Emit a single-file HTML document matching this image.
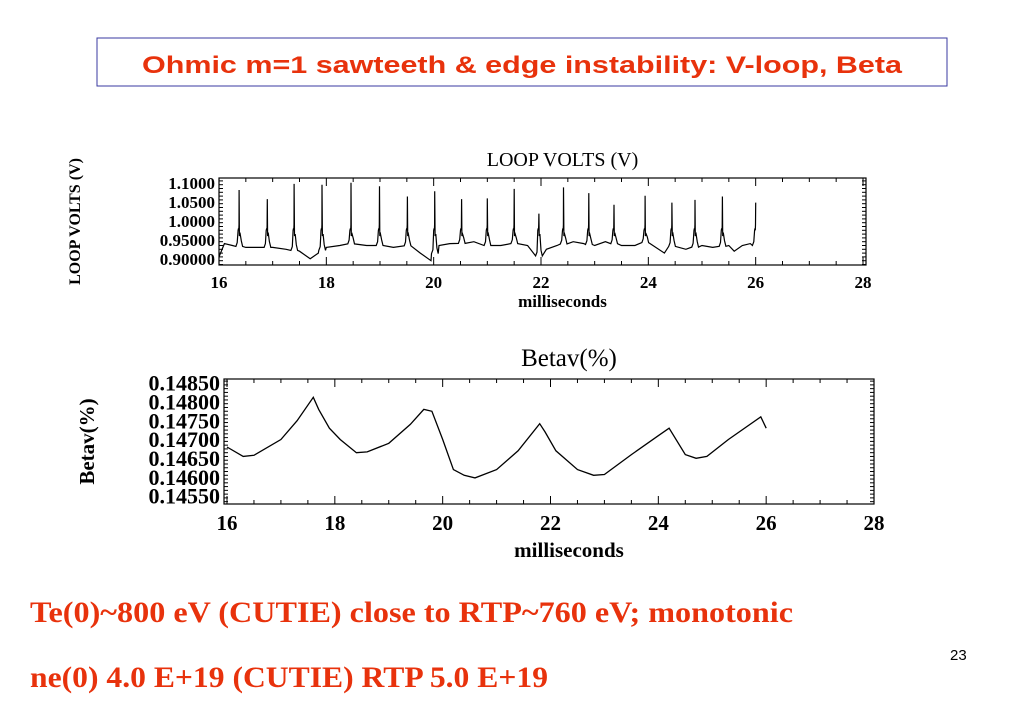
<!DOCTYPE html>
<html><head><meta charset="utf-8"><style>
html,body{margin:0;padding:0;background:#fff;}
svg{display:block;}
</style></head><body>
<svg id="s" width="1023" height="708" viewBox="0 0 1023 708" xmlns="http://www.w3.org/2000/svg">
<rect x="97" y="38" width="850" height="48" fill="#fff" stroke="#3a3aa0" stroke-width="1"/>
<text x="522" y="73" text-anchor="middle" font-family="Liberation Sans, sans-serif" font-weight="bold" font-size="24" fill="#e8320c" textLength="760" lengthAdjust="spacingAndGlyphs">Ohmic m=1 sawteeth &amp; edge instability: V-loop, Beta</text>
<g id="top"></g>
<g id="bot"></g>
<text x="30" y="622" font-family="Liberation Serif, serif" font-weight="bold" font-size="30" fill="#e8320c" textLength="763" lengthAdjust="spacingAndGlyphs">Te(0)~800 eV (CUTIE) close to RTP~760 eV; monotonic</text>
<text x="30" y="687" font-family="Liberation Serif, serif" font-weight="bold" font-size="30" fill="#e8320c" textLength="518" lengthAdjust="spacingAndGlyphs">ne(0) 4.0 E+19 (CUTIE) RTP 5.0 E+19</text>
<text x="950" y="660" font-family="Liberation Sans, sans-serif" font-size="15" fill="#000">23</text>
</svg>
<script>
// Loop volts data
const spikeTimes=[16.375,16.90,17.40,17.92,18.46,18.99,19.51,20.02,20.52,21.00,21.50,21.96,22.42,22.89,23.36,23.94,24.44,24.87,25.38,26.0];
const spikePeaks=[1.081,1.057,1.097,1.095,1.10,1.091,1.064,1.078,1.057,1.059,1.084,1.019,1.088,1.073,1.042,1.066,1.048,1.055,1.064,1.048];
const baseTimes=[16.0,16.1,16.25,16.5,16.75,17.0,17.25,17.5,17.7,17.85,18.0,18.25,18.5,18.75,19.0,19.25,19.5,19.75,19.95,20.1,20.3,20.5,20.75,21.0,21.25,21.5,21.75,21.98,22.1,22.3,22.6,22.8,23.0,23.2,23.5,23.75,24.0,24.3,24.5,24.7,25.0,25.2,25.5,25.6,25.75,25.9,26.0];
const baseVals=[0.905,0.94,0.935,0.93,0.93,0.93,0.925,0.92,0.90,0.915,0.93,0.935,0.94,0.935,0.935,0.93,0.935,0.915,0.895,0.935,0.94,0.94,0.945,0.935,0.935,0.94,0.935,0.905,0.925,0.935,0.945,0.94,0.935,0.945,0.935,0.935,0.945,0.915,0.94,0.925,0.935,0.93,0.935,0.92,0.935,0.94,0.935];
const vTicks=[0.90,0.95,1.00,1.05,1.10];
const vTickLabels=["0.90000","0.95000","1.0000","1.0500","1.1000"];
// Beta data
const betaTimes=[16.0,16.3,16.5,17.0,17.3,17.6,17.7,17.9,18.1,18.4,18.6,19.0,19.4,19.65,19.8,20.0,20.2,20.4,20.6,21.0,21.4,21.8,21.9,22.1,22.5,22.8,23.0,23.5,24.0,24.2,24.5,24.7,24.9,25.3,25.9,26.0];
const betaVals=[0.1468,0.14655,0.14658,0.1470,0.1475,0.14812,0.1478,0.1473,0.1470,0.14665,0.14667,0.1469,0.1474,0.1478,0.14775,0.1470,0.1462,0.14605,0.14598,0.1462,0.1467,0.14742,0.1472,0.1467,0.1462,0.14605,0.14607,0.1466,0.1471,0.1473,0.1466,0.1465,0.14655,0.1470,0.1476,0.1473];
const bTicks=[0.1455,0.1460,0.1465,0.1470,0.1475,0.1480,0.1485];
const bTickLabels=["0.14550","0.14600","0.14650","0.14700","0.14750","0.14800","0.14850"];
const xTicks=[16,18,20,22,24,26,28];

const NS="http://www.w3.org/2000/svg";
function mk(parent,tag,attrs,txt){const e=document.createElementNS(NS,tag);for(const k in attrs)e.setAttribute(k,attrs[k]);if(txt!==undefined)e.textContent=txt;parent.appendChild(e);return e;}

function drawAxes(g,cfg){
  const {L,R,T,B,x,y,yMin,yMax,yTicks,yLabels,title,titleY,titleFs,ytitle,ytitleX,xlabY,xtY,xtFs,ytFs}=cfg;
  const fr=mk(g,'rect',{x:L,y:T,width:R-L,height:B-T,fill:'none',stroke:'#000','stroke-width':1.2});
  
  
  for(let v=16;v<=28.001;v+=0.5){
    const big=Math.abs(v-Math.round(v/2)*2)<1e-6;const len=big?8:4;const px=x(v);
    const t1=mk(g,'line',{x1:px,y1:B,x2:px,y2:B-len,stroke:'#000'});
    
    
    const t2=mk(g,'line',{x1:px,y1:T,x2:px,y2:T+len,stroke:'#000'});
    
    
  }
  xTicks.forEach(v=>{
    const t=mk(g,'text',{x:x(v),y:xtY,'text-anchor':'middle','font-family':'Liberation Serif, serif','font-weight':'bold','font-size':xtFs},String(v));
    
    
  });
  const step=(yTicks[1]-yTicks[0])/5;
  for(let v=yMin;v<=yMax+1e-9;v+=step){
    const major=yTicks.some(t=>Math.abs(t-v)<step/10);const len=major?8:4;const py=y(v);
    if(py<T-0.5||py>B+0.5)continue;
    const a=mk(g,'line',{x1:L,y1:py,x2:L+len,y2:py,stroke:'#000'});
    
    
    const b=mk(g,'line',{x1:R,y1:py,x2:R-len,y2:py,stroke:'#000'});
    
    
  }
  yTicks.forEach((v,i)=>{
    const t=mk(g,'text',{x:L-4,y:y(v)+ytFs*0.35,'text-anchor':'end','font-family':'Liberation Serif, serif','font-weight':'bold','font-size':ytFs},yLabels[i]);
    
    
  });
  const tt=mk(g,'text',{x:(L+R)/2+20,y:titleY,'text-anchor':'middle','font-family':'Liberation Serif, serif','font-size':titleFs},title);
  
  
  const xl=mk(g,'text',{x:(L+R)/2+20,y:xlabY,'text-anchor':'middle','font-family':'Liberation Serif, serif','font-weight':'bold','font-size':xtFs},'milliseconds');
  
  
  const cy=(T+B)/2;
  const yt=mk(g,'text',{x:ytitleX,y:cy,'text-anchor':'middle','font-family':'Liberation Serif, serif','font-weight':'bold','font-size':cfg.ytitleFs,transform:`rotate(-90 ${ytitleX} ${cy})`},ytitle);
  
  
}

// Top chart
(function(){
  const g=document.getElementById('top');
  const L=219,R=866,T=178,B=265;
  const x=v=>219+(v-16)*(863-219)/12;
  const y=v=>258.8-(v-0.90)*(258.8-182.8)/0.2;
  drawAxes(g,{L,R,T,B,x,y,yMin:0.885,yMax:1.11,yTicks:vTicks,yLabels:vTickLabels,title:'LOOP VOLTS (V)',titleY:166,titleFs:20,ytitle:'LOOP VOLTS (V)',ytitleX:80,ytitleFs:16,xlabY:307,xtY:288,xtFs:17,ytFs:17});
  function baseAt(t){for(let i=0;i<baseTimes.length-1;i++){if(t>=baseTimes[i]&&t<=baseTimes[i+1]){const f=(t-baseTimes[i])/(baseTimes[i+1]-baseTimes[i]);return baseVals[i]+f*(baseVals[i+1]-baseVals[i]);}}return baseVals[baseVals.length-1];}
  let pts=baseTimes.map((t,i)=>[t,baseVals[i]]);
  spikeTimes.forEach((t,i)=>{
    const b=baseAt(t);
    pts=pts.filter(p=>Math.abs(p[0]-t)>0.07);
    pts.push([t-0.06,b],[t-0.035,b+0.01],[t-0.02,0.975],[t-0.012,0.98],[t-0.006,0.975],[t-0.003,0.99],[t,spikePeaks[i]]);
    if(t<25.99)pts.push([t+0.006,0.96],[t+0.02,0.965],[t+0.04,b+0.015],[t+0.065,b]);
  });
  pts.sort((a,b)=>a[0]-b[0]);
  const d=pts.map((p,i)=>(i?'L':'M')+x(p[0]).toFixed(1)+','+y(p[1]).toFixed(1)).join('');
  const path=mk(g,'path',{d,fill:'none',stroke:'#000','stroke-width':1.2});
  
  
})();

// Bottom chart
(function(){
  const g=document.getElementById('bot');
  const L=224,R=874,T=379,B=504;
  const x=v=>227+(v-16)*(874-227)/12;
  const y=v=>383-(v-0.1485)*(496-383)/0.003;
  drawAxes(g,{L,R,T,B,x,y,yMin:0.14535,yMax:0.1486,yTicks:bTicks,yLabels:bTickLabels,title:'Betav(%)',titleY:366,titleFs:25,ytitle:'Betav(%)',ytitleX:94,ytitleFs:21,xlabY:557,xtY:530,xtFs:21,ytFs:22});
  const d=betaTimes.map((t,i)=>(i?'L':'M')+x(t).toFixed(1)+','+y(betaVals[i]).toFixed(1)).join('');
  const path=mk(g,'path',{d,fill:'none',stroke:'#000','stroke-width':1.3});
  
  
})();
</script>
</body></html>
